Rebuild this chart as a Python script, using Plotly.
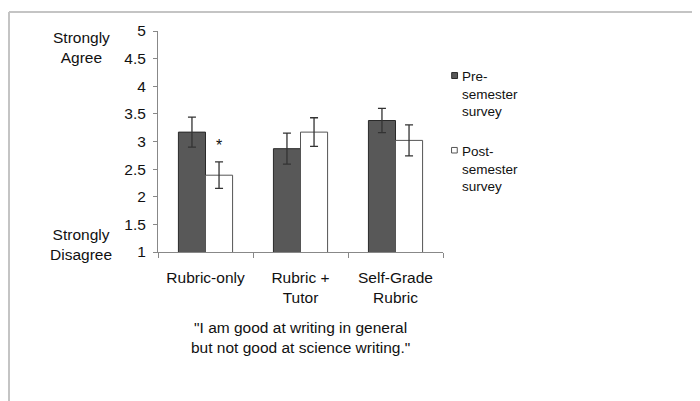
import plotly.graph_objects as go

categories = ["Rubric-only", "Rubric +<br>Tutor", "Self-Grade<br>Rubric"]
pre_values = [3.17, 2.87, 3.38]
pre_errors = [0.27, 0.28, 0.22]
post_values = [2.39, 3.17, 3.02]
post_errors = [0.24, 0.26, 0.28]
series_names = ["Pre-<br>semester<br>survey", "Post-<br>semester<br>survey"]
series_fill = ["#585858", "#ffffff"]
series_edge = ["#2a2a2a", "#555555"]
y_ticks = [1, 1.5, 2, 2.5, 3, 3.5, 4, 4.5, 5]
y_tick_labels = ["1", "1.5", "2", "2.5", "3", "3.5", "4", "4.5", "5"]
title_text = "\"I am good at writing in general<br>but not good at science writing.\""

FONT = "Liberation Sans, Arial, sans-serif"
TXT = "#111111"
FS = 15.5

fig = go.Figure()
fig.add_trace(go.Bar(
    x=categories, y=pre_values, name="Pre-semester survey", showlegend=False,
    marker=dict(color=series_fill[0], line=dict(color=series_edge[0], width=1)),
    error_y=dict(type="data", array=pre_errors, color="#333333", thickness=1.3, width=4),
))
fig.add_trace(go.Bar(
    x=categories, y=post_values, name="Post-semester survey", showlegend=False,
    marker=dict(color=series_fill[1], line=dict(color=series_edge[1], width=1)),
    error_y=dict(type="data", array=post_errors, color="#333333", thickness=1.3, width=4),
))

# significance marker
fig.add_annotation(x=0.14, y=2.93, xref="x", yref="y", text="*", showarrow=False,
                   font=dict(size=16, color=TXT, family=FONT), xanchor="center", yanchor="middle")
# y-axis end labels
fig.add_annotation(x=-0.27, y=0.925, xref="paper", yref="paper", text="Strongly<br>Agree",
                   showarrow=False, align="center", xanchor="center", yanchor="middle",
                   font=dict(size=FS, color=TXT, family=FONT))
fig.add_annotation(x=-0.27, y=0.036, xref="paper", yref="paper", text="Strongly<br>Disagree",
                   showarrow=False, align="center", xanchor="center", yanchor="middle",
                   font=dict(size=FS, color=TXT, family=FONT))
# caption below
fig.add_annotation(x=0.5, y=-0.385, xref="paper", yref="paper", text=title_text,
                   showarrow=False, align="center", xanchor="center", yanchor="middle",
                   font=dict(size=FS, color=TXT, family=FONT))

# manual legend
legend_sq = [(1.0305, 1.051, 0.785, 0.812), (1.030, 1.050, 0.448, 0.473)]
legend_txt_y = [0.835, 0.500]
for i in range(2):
    x0, x1, y0, y1 = legend_sq[i]
    fig.add_shape(type="rect", xref="paper", yref="paper", x0=x0, x1=x1, y0=y0, y1=y1,
                  fillcolor=series_fill[i], line=dict(color=series_edge[i], width=1))
    fig.add_annotation(x=1.060, y=legend_txt_y[i], xref="paper", yref="paper",
                       text=series_names[i], showarrow=False, align="left",
                       xanchor="left", yanchor="top",
                       font=dict(size=13.5, color=TXT, family=FONT))

# outer frame (top and left border)
fig.add_shape(type="line", xref="paper", yref="paper", x0=-0.5228, x1=1.95, y0=1.086, y1=1.086,
              line=dict(color="#c4c4c4", width=2))
fig.add_shape(type="line", xref="paper", yref="paper", x0=-0.5228, x1=-0.5228, y0=1.086, y1=-0.7,
              line=dict(color="#c4c4c4", width=2))

fig.update_layout(
    width=692, height=393,
    margin=dict(l=150, r=257, t=23, b=149),
    paper_bgcolor="white", plot_bgcolor="white",
    barmode="group", bargap=0.43, bargroupgap=0,
    font=dict(family=FONT, size=FS, color=TXT),
    showlegend=False,
    xaxis=dict(showline=True, linecolor="#888888", linewidth=1, ticks="outside",
               tickson="boundaries", ticklen=5, tickcolor="#888888", showgrid=False,
               ticklabelstandoff=11,
               tickfont=dict(size=FS, family=FONT, color=TXT)),
    yaxis=dict(range=[1, 5], tickvals=y_ticks, ticktext=y_tick_labels, showline=True,
               linecolor="#888888", linewidth=1, ticks="outside", ticklen=4,
               tickcolor="#888888", showgrid=False, zeroline=False,
               ticklabelstandoff=4,
               tickfont=dict(size=FS, family=FONT, color=TXT)),
)

fig.write_html("out.html")
